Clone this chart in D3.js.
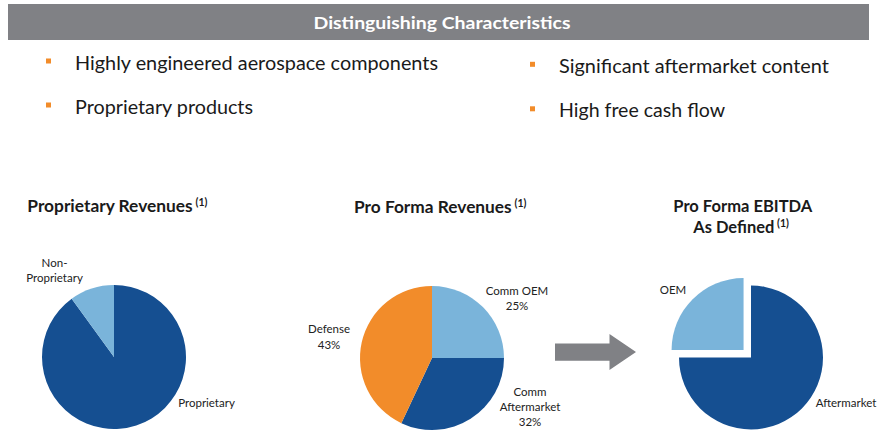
<!DOCTYPE html>
<html>
<head>
<meta charset="utf-8">
<script src="https://cdn.jsdelivr.net/npm/d3@7"></script>
<style>
  body { margin: 0; background: #fff; }
  svg { display: block; font-family: Lato, "Open Sans", sans-serif; }
</style>
</head>
<body>
<div id="chart"></div>
<script>
// ---- data ----
const headerTitle = "Distinguishing Characteristics";
const bulletsLeft = ["Highly engineered aerospace components", "Proprietary products"];
const bulletsRight = ["Significant aftermarket content", "High free cash flow"];

const propLabels = ["Proprietary", "Non-Proprietary"];
const propValues = [90, 10];

const revLabels = ["Comm OEM", "Comm Aftermarket", "Defense"];
const revValues = [25, 32, 43];

const ebitdaLabels = ["Aftermarket", "OEM"];
const ebitdaValues = [75, 25];

// ---- colours ----
const darkBlue = "#154f91";
const lightBlue = "#7ab4da";
const orange = "#f28c2a";
const gray = "#808185";
const ink = "#1a1a1a";

const width = 879, height = 440;

const svg = d3.select("#chart")
  .append("svg")
    .attr("width", width)
    .attr("height", height)
    .attr("viewBox", `0 0 ${width} ${height}`);

// helper for text; fitWidth squeezes to measured width of the reference
const addText = (parent, x, y, str, opts = {}) => {
  const t = parent.append("text")
    .attr("x", x)
    .attr("y", y)
    .attr("fill", opts.fill || ink)
    .attr("font-size", opts.size || 11)
    .attr("font-weight", opts.weight || 400)
    .attr("text-anchor", opts.anchor || "start")
    .text(str);
  if (opts.fitWidth) {
    t.attr("textLength", opts.fitWidth).attr("lengthAdjust", "spacingAndGlyphs");
  }
  return t;
};

/*************************/
/*    Header + bullets   */
/*************************/
svg.append("rect")
  .attr("x", 8).attr("y", 4)
  .attr("width", 861).attr("height", 36)
  .attr("fill", gray);

addText(svg, 442, 28.5, headerTitle, { size: 17.5, weight: 700, fill: "#fff", anchor: "middle", fitWidth: 257 });

const leftWidths = [363, 178];
const rightWidths = [270, 166];

bulletsLeft.forEach((b, i) => {
  const y = 69.5 + i * 44;
  svg.append("rect").attr("x", 46).attr("y", y - 11).attr("width", 5).attr("height", 5).attr("fill", orange);
  addText(svg, 75, y, b, { size: 19.5, fitWidth: leftWidths[i] });
});
bulletsRight.forEach((b, i) => {
  const y = 72.8 + i * 44.5;
  svg.append("rect").attr("x", 530).attr("y", y - 11).attr("width", 5).attr("height", 5).attr("fill", orange);
  addText(svg, 559, y, b, { size: 19.5, fitWidth: rightWidths[i] });
});

/*************************/
/*    Section titles     */
/*************************/
const sup = (x, y) => addText(svg, x, y - 6, "(1)", { size: 10.5, weight: 700 });

addText(svg, 27.3, 212.3, "Proprietary Revenues", { size: 17, weight: 700, fitWidth: 165.4 });
sup(195.5, 212.3);
addText(svg, 354, 213.3, "Pro Forma Revenues", { size: 17, weight: 700, fitWidth: 157.7 });
sup(514.5, 213.3);
addText(svg, 673.3, 211.7, "Pro Forma EBITDA", { size: 17, weight: 700, fitWidth: 139 });
addText(svg, 693.3, 233.3, "As Defined", { size: 17, weight: 700, fitWidth: 81 });
sup(777, 233.3);

/*************************/
/*        Pies           */
/*************************/
const radius = 72;
const pie = d3.pie().sort(null).value(d => d.value);
const arc = d3.arc().innerRadius(0).outerRadius(radius);

const drawPie = (cx, cy, labels, values, colors, explode) => {
  const data = labels.map((l, i) => ({ label: l, value: values[i] }));
  const g = svg.append("g").attr("transform", `translate(${cx}, ${cy})`);
  g.selectAll("path")
    .data(pie(data))
    .join("path")
      .attr("d", arc)
      .attr("fill", (d, i) => colors[i])
      .attr("transform", d => {
        const off = explode[d.data.label] || 0;
        const a = (d.startAngle + d.endAngle) / 2;
        return `translate(${Math.sin(a) * off}, ${-Math.cos(a) * off})`;
      });
  return g;
};

// multi-line label, offsets relative to pie centre
const drawLabel = (g, dx, dy, lines, lh) => {
  lines.forEach((line, i) => {
    addText(g, dx, dy + i * lh, line, { size: 11.5, anchor: "middle", fill: "#222" });
  });
};

const g1 = drawPie(114, 357, propLabels, propValues, [darkBlue, lightBlue], {});
drawLabel(g1, 92.5, 49.7, ["Proprietary"], 14.4);
drawLabel(g1, -59.5, -89.7, ["Non-", "Proprietary"], 14.4);

const g2 = drawPie(432, 358, revLabels, revValues, [lightBlue, darkBlue, orange], {});
drawLabel(g2, 85, -63, ["Comm OEM", `${revValues[0]}%`], 15);
drawLabel(g2, 98, 38, ["Comm", "Aftermarket", `${revValues[1]}%`], 15);
drawLabel(g2, -103, -24.7, ["Defense", `${revValues[2]}%`], 15.5);

const g3 = drawPie(751, 357.5, ebitdaLabels, ebitdaValues, [darkBlue, lightBlue], { OEM: 10.5 });
drawLabel(g3, 95, 49, ["Aftermarket"], 14);
drawLabel(g3, -78, -64, ["OEM"], 14);

/*************************/
/*        Arrow          */
/*************************/
const arrowPts = [[555, 343.5], [609.5, 343.5], [609.5, 334], [636, 352], [609.5, 370], [609.5, 360.7], [555, 360.7]];
svg.append("path")
  .attr("d", d3.line()(arrowPts) + "Z")
  .attr("fill", gray);
</script>
</body>
</html>
